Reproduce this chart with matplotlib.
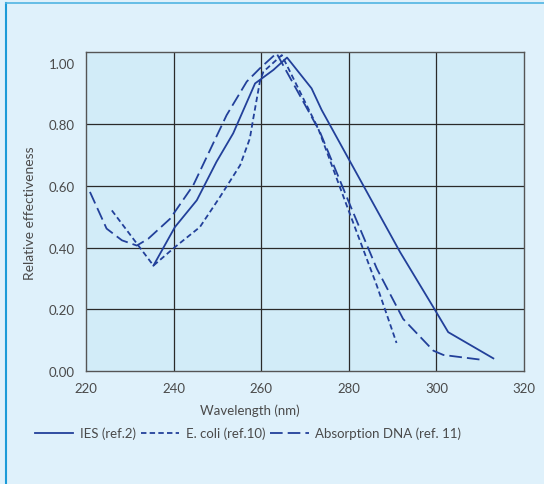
import matplotlib
matplotlib.use("Agg")
import matplotlib.pyplot as plt
from matplotlib.lines import Line2D

plt.rcParams["font.family"] = ["Lato", "DejaVu Sans"]

# IES (ref.2)
ies_x = [235.4, 240.3, 245.3, 249.8, 253.6, 258.6, 262.8, 265.9, 271.5, 273.8, 279.5, 291.7, 299.3, 302.7, 313.0]
ies_y = [0.342, 0.467, 0.554, 0.679, 0.771, 0.933, 0.977, 1.017, 0.917, 0.847, 0.700, 0.386, 0.207, 0.126, 0.041]

# E. coli (ref.10)
ecoli_x = [225.9, 235.4, 240.3, 246.0, 250.6, 255.2, 257.4, 258.2, 259.7, 260.5, 264.7, 273.0, 279.5, 286.4, 290.9]
ecoli_y = [0.521, 0.342, 0.402, 0.467, 0.565, 0.668, 0.754, 0.820, 0.939, 0.971, 1.025, 0.787, 0.538, 0.277, 0.091]

# Absorption DNA (ref. 11)
dna_x = [220.9, 224.7, 228.2, 231.6, 234.2, 239.2, 244.5, 252.1, 256.7, 259.7, 263.5, 273.4, 280.3, 286.4, 292.4, 299.3, 301.6, 310.0]
dna_y = [0.581, 0.462, 0.424, 0.407, 0.429, 0.494, 0.603, 0.830, 0.939, 0.982, 1.031, 0.776, 0.538, 0.332, 0.169, 0.066, 0.052, 0.037]

x_ticks = [220, 240, 260, 280, 300, 320]
y_ticks = [0.0, 0.2, 0.4, 0.6, 0.8, 1.0]

line_color = "#22409a"
outer_bg = "#dff1fb"
inner_bg = "#d2ecf8"
text_color = "#4a4a4a"

fig = plt.figure(figsize=(5.44, 4.85), dpi=100, facecolor=outer_bg)
ax = fig.add_axes([86 / 544, 113 / 485, 438 / 544, 319 / 485])
ax.set_facecolor(inner_bg)

lw = 1.3
ax.plot(ies_x, ies_y, color=line_color, lw=lw, label="IES (ref.2)")
ax.plot(ecoli_x, ecoli_y, color=line_color, lw=lw, dashes=(3, 1.8), label="E. coli (ref.10)")
ax.plot(dna_x, dna_y, color=line_color, lw=lw, dashes=(7, 2.8), label="Absorption DNA (ref. 11)")

ax.set_xlim(220, 320)
ax.set_ylim(0, 1.035)
ax.set_xticks(x_ticks)
ax.set_yticks(y_ticks)
ax.set_xticklabels([str(v) for v in x_ticks])
ax.set_yticklabels([f"{v:.2f}" for v in y_ticks])
ax.tick_params(length=0, labelsize=9.5, colors=text_color)
ax.tick_params(axis="x", pad=8)
ax.tick_params(axis="y", pad=8)

# grid lines (no line at 1.00, frame sits just above it)
for xv in x_ticks[1:-1]:
    ax.axvline(xv, color="#2a2a2a", lw=0.9, zorder=1)
for yv in y_ticks[1:-1]:
    ax.axhline(yv, color="#2a2a2a", lw=0.9, zorder=1)
for s in ax.spines.values():
    s.set_color("#555555")
    s.set_linewidth(1.0)

fig.text(30 / 544, 1 - 213 / 485, "Relative effectiveness", rotation=90, ha="center",
         va="center", fontsize=10, color=text_color)
fig.text(250 / 544, 1 - 411 / 485, "Wavelength (nm)", ha="center", va="center",
         fontsize=9.5, color=text_color)

handles, labels = ax.get_legend_handles_labels()
fig.legend(handles, labels, loc="center", bbox_to_anchor=(248 / 544, 1 - 434 / 485),
           ncol=3, frameon=False, fontsize=9.5, labelcolor=text_color,
           handlelength=2.9, handletextpad=0.5, columnspacing=0.4)

# blue border on left and top
yt = 1 - 4 / 485
xl = 6 / 544
fig.add_artist(Line2D([xl, xl], [0, yt], transform=fig.transFigure, color="#1c9bd8", lw=1.5))
fig.add_artist(Line2D([xl, 1], [yt, yt], transform=fig.transFigure, color="#4fb4e2", lw=1.2))

fig.savefig("out.png", dpi=100, facecolor=outer_bg)
